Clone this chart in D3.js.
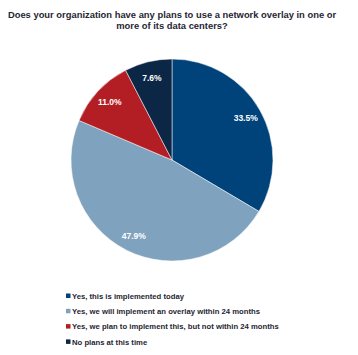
<!DOCTYPE html>
<html><head><meta charset="utf-8">
<script src="https://cdn.jsdelivr.net/npm/d3@7"></script>
<style>body{margin:0;background:#fff}svg{display:block}</style>
</head><body>
<svg id="c" width="358" height="355"></svg>
<script>
const titleLines = ["Does your organization have any plans to use a network overlay in one or", "more of its data centers?"];
const categories = ["Yes, this is implemented today", "Yes, we will implement an overlay within 24 months", "Yes, we plan to implement this, but not within 24 months", "No plans at this time"];
const values = [33.5, 47.9, 11.0, 7.6];
const colors = ["#00427A", "#7FA3BF", "#B21E24", "#0C2746"];

const svg = d3.select("#c");
const font = "'Liberation Sans', Arial, sans-serif";
const cx = 172, cy = 160, r = 101;

svg.append("g").selectAll("text").data(titleLines).join("text")
  .attr("x", 172).attr("y", (d,i) => 17.5 + i*11.5)
  .attr("text-anchor", "middle").attr("font-family", font).attr("font-weight", "bold")
  .attr("font-size", 9.4).attr("fill", "#262633").text(d => d);

const pie = d3.pie().sort(null).value(d => d)(values);
const arc = d3.arc().innerRadius(0).outerRadius(r);
const labelArc = d3.arc().innerRadius(r*0.84).outerRadius(r*0.84);
const g = svg.append("g").attr("transform", `translate(${cx},${cy})`);
g.selectAll("path").data(pie).join("path")
  .attr("d", arc).attr("fill", (d,i) => colors[i]).attr("stroke", "#fff").attr("stroke-width", 0.5);
g.selectAll("text").data(pie).join("text")
  .attr("transform", d => `translate(${labelArc.centroid(d)})`)
  .attr("text-anchor", "middle").attr("dy", "0.35em")
  .attr("font-family", font).attr("font-weight", "bold").attr("font-size", 8.5)
  .attr("fill", "#fff").text(d => d.data.toFixed(1) + "%");

const lg = svg.append("g").selectAll("g").data(categories).join("g")
  .attr("transform", (d,i) => `translate(66,${296 + i*15.3})`);
lg.append("rect").attr("x", 0).attr("y", -2.5).attr("width", 4.5).attr("height", 4.5)
  .attr("fill", (d,i) => colors[i]);
lg.append("text").attr("x", 6).attr("y", 0).attr("dy", "0.35em")
  .attr("font-family", font).attr("font-weight", "bold").attr("font-size", 7.7)
  .attr("fill", "#262633").text(d => d);
</script>
</body></html>
